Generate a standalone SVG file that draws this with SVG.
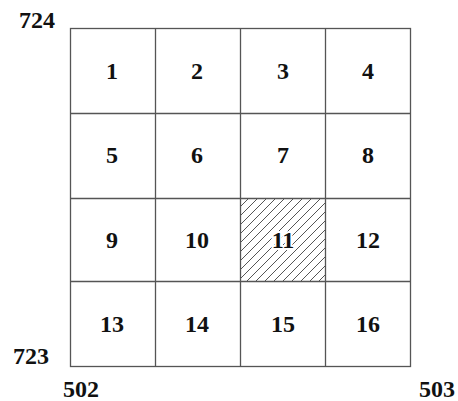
<svg xmlns="http://www.w3.org/2000/svg" width="458" height="401" viewBox="0 0 458 401">
<style>
.g{fill:none;stroke:#555;stroke-width:1.3}
.t{font-family:"Liberation Serif",serif;font-weight:bold;font-size:24px;fill:#111;text-anchor:middle}
.h{stroke:#555;stroke-width:1}
.halo{stroke:#fff;stroke-width:4px;paint-order:stroke}
</style>
<defs>
<clipPath id="c11"><rect x="240" y="198" width="85" height="83"/></clipPath>
</defs>
<rect width="458" height="401" fill="#fff"/>
<g id="hatch" clip-path="url(#c11)">
<path class="h" d="M240,207 l9,-9 M240,216 l18,-18 M240,225 l27,-27 M240,234 l36,-36 M240,243 l45,-45 M240,252 l54,-54 M240,261 l63,-63 M240,270 l72,-72 M240,279 l81,-81 M240,288 l90,-90 M240,297 l99,-99 M240,306 l108,-108 M240,315 l117,-117 M240,324 l126,-126 M240,333 l135,-135 M240,342 l144,-144 M240,351 l153,-153 M240,360 l162,-162"/>
</g>
<g id="grid">
<rect class="g" x="70.5" y="28.5" width="340" height="338"/>
<path class="g" d="M155.5,28.5V366.5M240.5,28.5V366.5M325.5,28.5V366.5M70.5,113.5H410.5M70.5,198.5H410.5M70.5,281.5H410.5"/>
</g>
<g id="cells" class="t">
<text x="112" y="79">1</text><text x="197" y="79">2</text><text x="283" y="79">3</text><text x="368" y="79">4</text>
<text x="112" y="163">5</text><text x="197" y="163">6</text><text x="283" y="163">7</text><text x="368" y="163">8</text>
<text x="112" y="248">9</text><text x="197" y="248">10</text><text class="halo" x="283" y="248">11</text><text x="368" y="248">12</text>
<text x="112" y="332">13</text><text x="197" y="332">14</text><text x="283" y="332">15</text><text x="368" y="332">16</text>
</g>
<g id="corners" class="t">
<text x="37" y="28">724</text>
<text x="31" y="364">723</text>
<text x="81" y="397">502</text>
<text x="437" y="397">503</text>
</g>
</svg>
